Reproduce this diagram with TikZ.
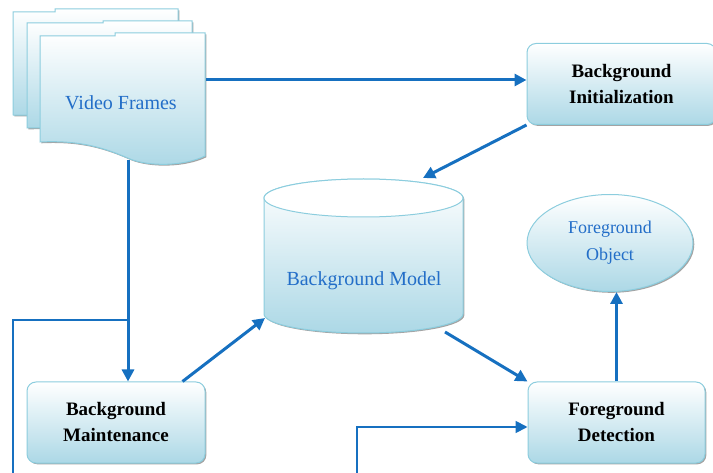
\documentclass[tikz,border=0pt]{standalone}
\usepackage{fontspec}
\setmainfont{Liberation Serif}
\usetikzlibrary{arrows.meta,shadows,shapes.geometric}

\definecolor{edgeblue}{RGB}{140,205,222}
\definecolor{fillblue}{RGB}{172,216,230}
\definecolor{linkblue}{RGB}{22,112,192}
\definecolor{textblue}{RGB}{35,110,200}

\begin{document}
\begin{tikzpicture}
  [x=1pt,y=-1pt,
   shade box/.style={draw=edgeblue,line width=1pt,top color=white,bottom color=fillblue,
     drop shadow={shadow xshift=1.3pt,shadow yshift=-1.3pt,fill=black!45,opacity=.8}},
   box/.style={shade box,rounded corners=9pt,minimum height=81pt,align=center,
     font=\fontsize{19}{26}\selectfont\bfseries},
   bluetext/.style={text=textblue,align=center},
   link/.style={draw=linkblue,line width=3pt,-{Triangle[length=12pt,width=12pt]}},
   thinlink/.style={draw=linkblue,line width=1.8pt}]
  \useasboundingbox (0,0) rectangle (713,473);

  % video frames stack
  \path[shade box] (13,12) -- (55,12) -- (55,9) -- (178,9) -- (178,110)
    .. controls (120,108) and (60,116) .. (13,115) -- cycle;
  \path[shade box] (27,23) -- (103,23) -- (103,21) -- (192,21) -- (192,122)
    .. controls (130,120) and (70,128) .. (27,128) -- cycle;
  \path[shade box] (40,36) -- (115,36) -- (115,33) -- (205,33) -- (205,156)
    .. controls (185,166) and (150,167) .. (130,159)
    .. controls (105,148) and (80,140) .. (40,142) -- cycle;
  \node[bluetext,font=\fontsize{20}{24}\selectfont] (frames) at (121,103) {Video Frames};

  % background model
  \path[shade box] (264,198) -- (264,314)
    arc[start angle=180,end angle=0,x radius=99.5,y radius=19] -- (463,198)
    arc[start angle=0,end angle=-180,x radius=99.5,y radius=19] -- cycle;
  \draw[draw=edgeblue,line width=1pt,fill=white] (363.5,198) ellipse[x radius=99.5,y radius=19];
  \node[bluetext,font=\fontsize{20}{24}\selectfont] (model) at (364,281) {Background Model};

  \node[box,minimum width=189pt] (init)   at (621.5,84)   {Background\\Initialization};
  \node[box,minimum width=178pt] (maint)  at (116,422.5)  {Background\\Maintenance};
  \node[box,minimum width=177pt] (detect) at (616.5,422.5) {Foreground\\Detection};
  \node[shade box,ellipse,minimum width=166pt,minimum height=97pt,inner sep=2pt,bluetext,
    font=\fontsize{18}{27}\selectfont] (object) at (610,243) {Foreground\\Object};

  \coordinate (fr-e)  at (206,80);
  \coordinate (fr-s)  at (128,160);
  \coordinate (tap)   at (128,320);
  \coordinate (fb-l)  at (13,480);
  \coordinate (fb-r)  at (357,480);
  \coordinate (m-top) at (423,178);
  \coordinate (m-bl)  at (265,318);
  \coordinate (m-br)  at (445,332);

  \draw[link] (fr-e) -- (fr-e -| init.west);
  \draw[link] (init.south west) -- (m-top);
  \draw[link] (fr-s) -- (fr-s |- maint.north);
  \draw[thinlink] (tap) -| (fb-l);
  \draw[link] ([xshift=-23pt]maint.north east) -- (m-bl);
  \draw[link] (m-br) -- (detect.north west);
  \draw[link,line width=1.8pt] (fb-r) |- ([yshift=-4.5pt]detect.west);
  \draw[link] (detect.north) -- (detect.north |- object.south);
\end{tikzpicture}
\end{document}
